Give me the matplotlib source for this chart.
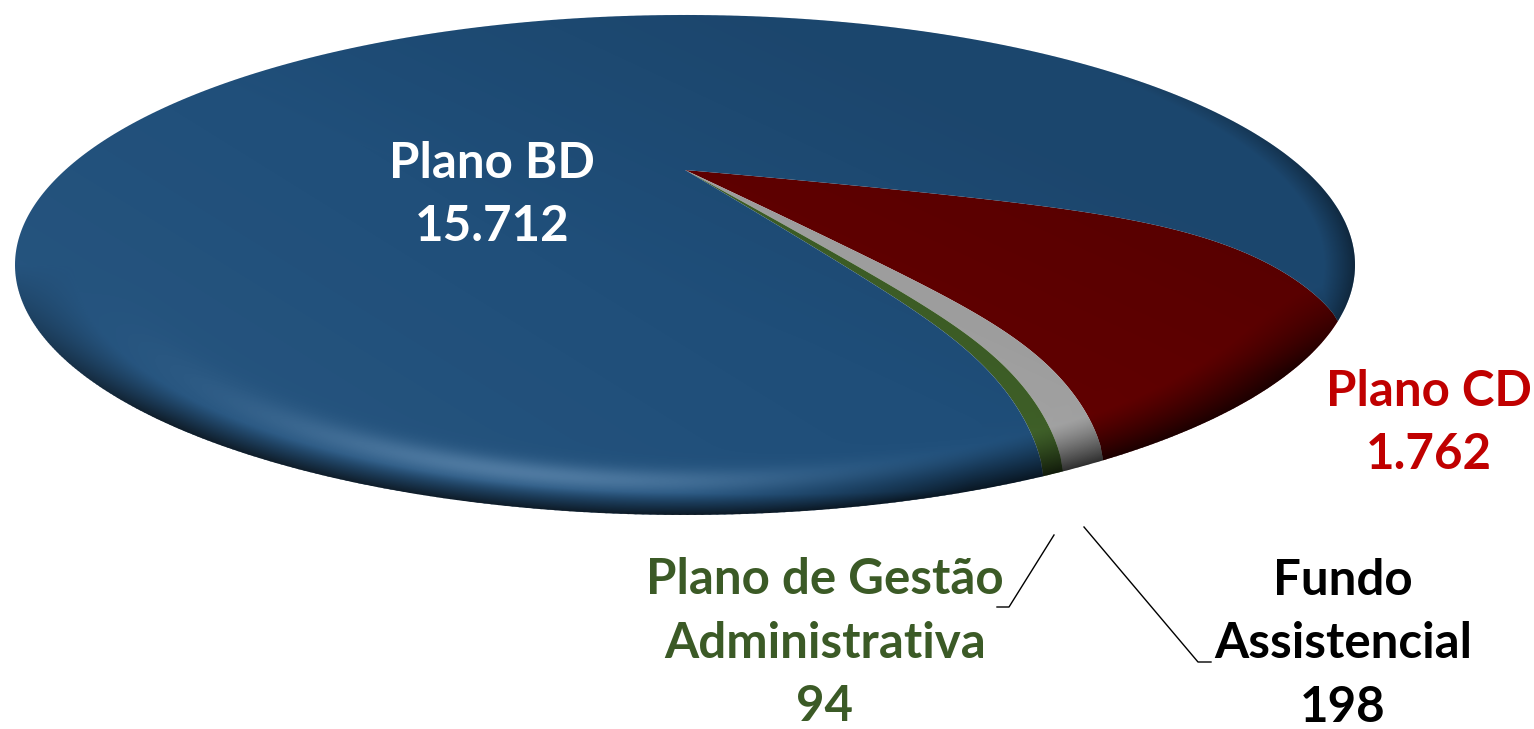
import numpy as np
import matplotlib
matplotlib.use("Agg")
import matplotlib.pyplot as plt
from matplotlib.path import Path
from matplotlib.patches import Ellipse
from matplotlib.transforms import Transform, Affine2D

# ---- data (clockwise, beginning at the upper edge of the red slice)
categories = ["Plano CD", "Fundo Assistencial", "Plano de Gestão Administrativa", "Plano BD"]
values = [1762, 198, 94, 15712]
colors = ["#620000", "#A3A3A3", "#3E5F27", "#1F4E79"]
label_texts = ["Plano BD\n15.712", "Plano CD\n1.762", "Plano de Gestão\nAdministrativa\n94", "Fundo\nAssistencial\n198"]
label_colors = ["white", "#C00000", "#3B5A26", "black"]
label_xy = [(492, 195), (1429, 423), (825, 643), (1343, 644)]

W, H = 1534, 729
CX, CY, RX, RY = 685, 265, 670, 250
DOME = 95
START_ANGLE = -13
WARP = np.radians(4.6)


class DomeTransform(Transform):
    """Maps the unit pie disc onto the tilted, bevelled disc in pixel space."""
    input_dims = output_dims = 2
    is_affine = False
    has_inverse = False

    def transform_non_affine(self, values):
        v = np.asarray(values, dtype=float)
        r = np.minimum(np.hypot(v[:, 0], v[:, 1]), 1.0)
        phi0 = np.arctan2(v[:, 1], v[:, 0])
        phi = phi0 + WARP * np.sin(phi0 - np.radians(START_ANGLE))
        f_far = np.clip(1 - r ** 7, 0, 1) ** 0.8 * (1 - 0.15 * r ** 2)
        f_near = np.clip(1 - r ** 8, 0, 1) ** 0.62 * (1 - 0.10 * r ** 2)
        w = np.clip((START_ANGLE - np.degrees(phi0)) / 35.0, 0, 1)
        lift = DOME * ((1 - w) * f_far + w * f_near)
        return np.column_stack([CX + RX * r * np.cos(phi),
                                CY - RY * r * np.sin(phi) - lift])

    def transform_path_non_affine(self, path):
        big = path.transformed(Affine2D().scale(4000))
        poly = big.to_polygons(closed_only=False)[0] / 4000
        dense = Path(poly).interpolated(150)
        return Path(self.transform_non_affine(dense.vertices))


fig = plt.figure(figsize=(W / 100, H / 100), dpi=100)
ax = fig.add_axes([0, 0, 1, 1])
wedges, _ = ax.pie(values, colors=colors, startangle=START_ANGLE, counterclock=False,
                   radius=1, wedgeprops=dict(linewidth=0))
ax.set_aspect("auto")
ax.set_xlim(0, W)
ax.set_ylim(H, 0)
ax.axis("off")
dome = DomeTransform()
for w in wedges:
    w.set_transform(dome + ax.transData)
    w.set_zorder(1)

# ---- surface shading: rim bevel, highlight and a soft light gradient
yy, xx = np.mgrid[0:H, 0:W] + 0.5
ex = (xx - CX) / RX
ey = (yy - CY) / RY
rho = np.hypot(ex, ey)
d = np.clip(1 - rho, 0, 1)
bottom = np.clip(ey / np.maximum(rho, 1e-6), 0, 1)

dark = 0.74 * np.clip(1 - d / 0.09, 0, 1) ** 1.1 * np.clip(bottom * 1.6, 0, 1)
# lower right rim: wider dark band
lowright = np.clip(ex, 0, 1) * bottom
dark = np.maximum(dark, 0.72 * np.clip(1 - d / 0.16, 0, 1) ** 1.3 * np.clip(lowright * 2.6, 0, 1))
# right-hand rim
right = np.clip(ex, 0, 1) ** 3
dark = np.maximum(dark, 0.5 * np.clip(1 - d / 0.06, 0, 1) * right)
# broad shade toward the right
dark = np.maximum(dark, 0.10 * np.clip((ex - ey * 0.8 + 0.1), 0, 1))

gauss = np.exp(-((d - 0.135) / 0.05) ** 2)
spot = np.exp(-((ex + 0.33) / 0.50) ** 2) * bottom ** 2
light = 0.30 * gauss * spot
# broad glow toward lower left
light = light + 0.04 * np.clip(-ex + ey * 0.6, 0, 1)

alpha = 1 - (1 - dark) * (1 - light)
rgb = (light / np.maximum(alpha, 1e-6))[..., None] * np.array([0.75, 0.88, 1.0])
rgba = np.dstack([rgb, alpha])
shade = ax.imshow(rgba, extent=(0, W, H, 0), zorder=2, interpolation="bilinear", aspect="auto")
shade.set_clip_path(Ellipse((CX, CY), 2 * RX, 2 * RY, transform=ax.transData))
ax.set_xlim(0, W)
ax.set_ylim(H, 0)

# ---- leader lines
ax.plot([1054, 1009, 997], [535, 607, 607], color="black", lw=1.0, zorder=3)
ax.plot([1084, 1198, 1211], [527, 662, 662], color="black", lw=1.0, zorder=3)

# ---- labels
for txt, col, (x, y) in zip(label_texts, label_colors, label_xy):
    ax.text(x, y, txt, color=col, ha="center", va="center", family=["Lato", "DejaVu Sans"],
            fontweight="bold", fontsize=35.5, linespacing=1.49, zorder=4, multialignment="center")

fig.savefig("out.png", dpi=100)
